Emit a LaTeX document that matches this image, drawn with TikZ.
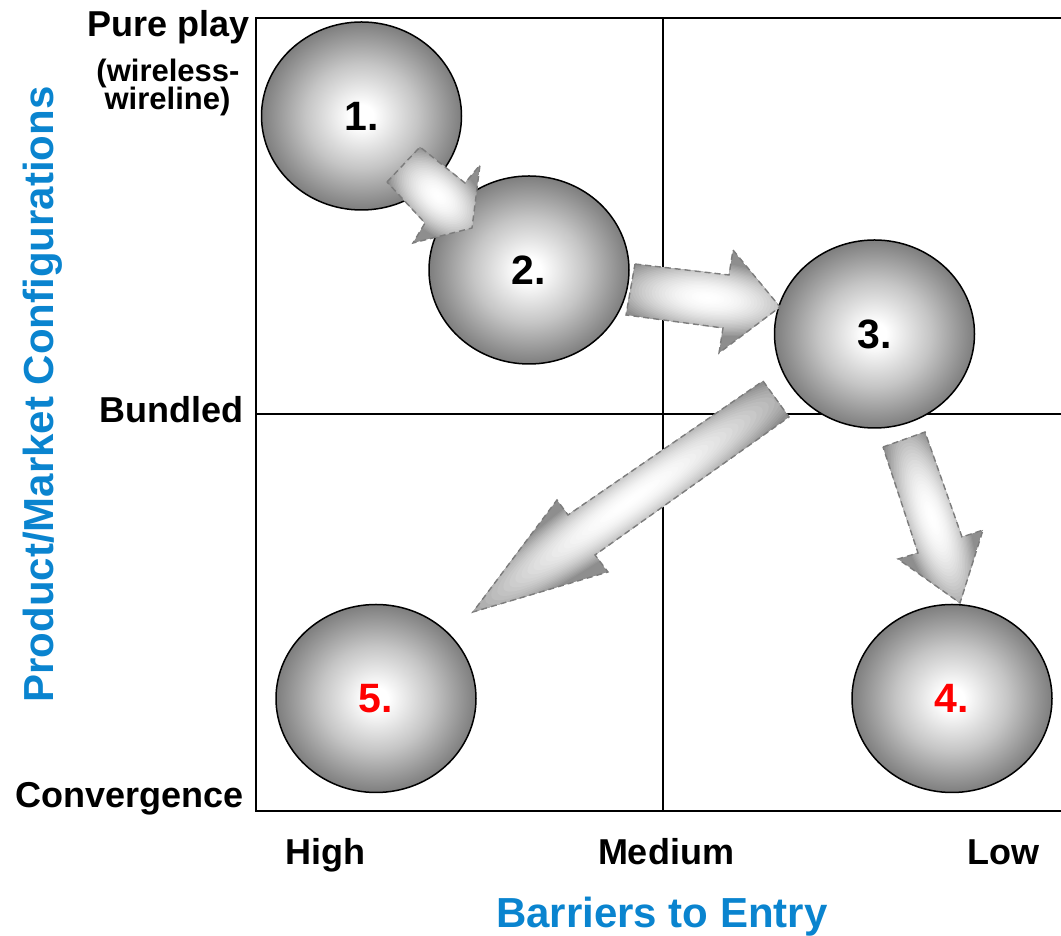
\documentclass[tikz,border=0pt]{standalone}
\usepackage{fontspec}
\setmainfont{Liberation Sans}
\usetikzlibrary{shapes.geometric}

\definecolor{axisblue}{HTML}{0A84CF}
\definecolor{ballgray}{HTML}{7E7E7E}
\definecolor{arrowgray}{HTML}{8E8E8E}
\definecolor{dashgray}{HTML}{7C7C7C}
\definecolor{numred}{HTML}{FF0000}

% sphere-like fill: white core fading to grey at the rim
\pgfdeclareradialshading{ballshade}{\pgfpoint{0bp}{0bp}}{%
  color(0bp)=(white); color(3bp)=(white); color(14bp)=(white!55!ballgray);
  color(25bp)=(ballgray); color(50bp)=(ballgray)}

% Block arrow: #1 outline path, #2 centre of the highlight, #3 direction angle,
% #4 half length and #5 half width of the highlight
\newcommand\flowarrow[5]{%
  \begin{scope}
    \clip #1;
    \fill[arrowgray] #1;
    \begin{scope}[shift={#2}, rotate=#3]
      \foreach \k in {0,...,29}{
        \pgfmathsetmacro\sc{1-\k/30}
        \pgfmathsetmacro\wp{100*(1-\sc*\sc)}
        \fill[white!\wp!arrowgray] (0,0) ellipse [x radius=\sc*#4, y radius=\sc*#5];
      }
    \end{scope}
  \end{scope}
  \draw[dashgray, line width=1.4pt, dash pattern=on 6pt off 4pt, line join=miter] #1;
}

\begin{document}
\begin{tikzpicture}[x=1pt, y=1pt,
  ball/.style={ellipse, draw=black, line width=1.5pt, shading=ballshade,
    minimum width=200pt, minimum height=188pt,
    inner sep=0pt, font=\fontsize{41}{41}\selectfont\bfseries},
  lbl/.style={font=\fontsize{36}{36}\selectfont\bfseries, inner sep=0pt},
  sublbl/.style={font=\fontsize{31}{31}\selectfont\bfseries, inner sep=0pt},
  axtitle/.style={font=\fontsize{42}{42}\selectfont\bfseries, text=axisblue, inner sep=0pt},
  grid/.style={line width=2pt, black}]
\useasboundingbox (0,0) rectangle (1061,936);

% quadrant frame
\draw[grid] (1061,918) -- (256,918) -- (256,125) -- (1061,125);
\draw[grid] (663,918) -- (663,125);
\draw[grid] (256,522) -- (1061,522);

% stages
\node[ball] (s1) at (361.5,820) {1.};
\node[ball] (s2) at (529,666) {2.};
\node[ball] (s3) at (874.5,602) {3.};
\node[ball, text=numred] (s4) at (952,237.5) {4.};
\node[ball, text=numred] (s5) at (376,237.5) {5.};

% transitions between stages
\flowarrow{(387,754) -- (420,789) -- (465,753) -- (480,771) -- (472,708) -- (413,693) -- (425,713) -- cycle}{(438,740)}{-42.8}{62}{36}
\flowarrow{(635,672) -- (729,661) -- (733,686) -- (780,629) -- (719,583) -- (723,608) -- (626,621) -- cycle}{(708,638)}{-6.7}{100}{38}
\flowarrow{(763,555) -- (789,519) -- (595,381) -- (608,364) -- (473,324) -- (557,436) -- (568,421) -- cycle}{(630,435)}{215.1}{220}{34}
\flowarrow{(883,489) -- (925,504) -- (962,399) -- (983,406) -- (960,333) -- (898,377) -- (918,383) -- cycle}{(932,418)}{-71.1}{108}{34}

% vertical axis labels
\node[lbl, anchor=base] (pure) at (168.5,899) {Pure play};
\node[sublbl, anchor=base] (wl1) at (168,854) {(wireless-};
\node[sublbl, anchor=base] (wl2) at (167.5,826) {wireline)};
\node[lbl, anchor=base east] (bund) at (244,513) {Bundled};
\node[lbl, anchor=base east] (conv) at (244,128) {Convergence};

% horizontal axis labels
\node[lbl, anchor=base] (high) at (325,71) {High};
\node[lbl, anchor=base] (med) at (666,71) {Medium};
\node[lbl, anchor=base] (low) at (1003,71) {Low};

% axis titles
\node[axtitle, anchor=base] (xt) at (662,8) {Barriers to Entry};
\node[axtitle, anchor=base, rotate=90] (yt) at (53,541.5) {Product/Market Configurations};
\end{tikzpicture}
\end{document}
